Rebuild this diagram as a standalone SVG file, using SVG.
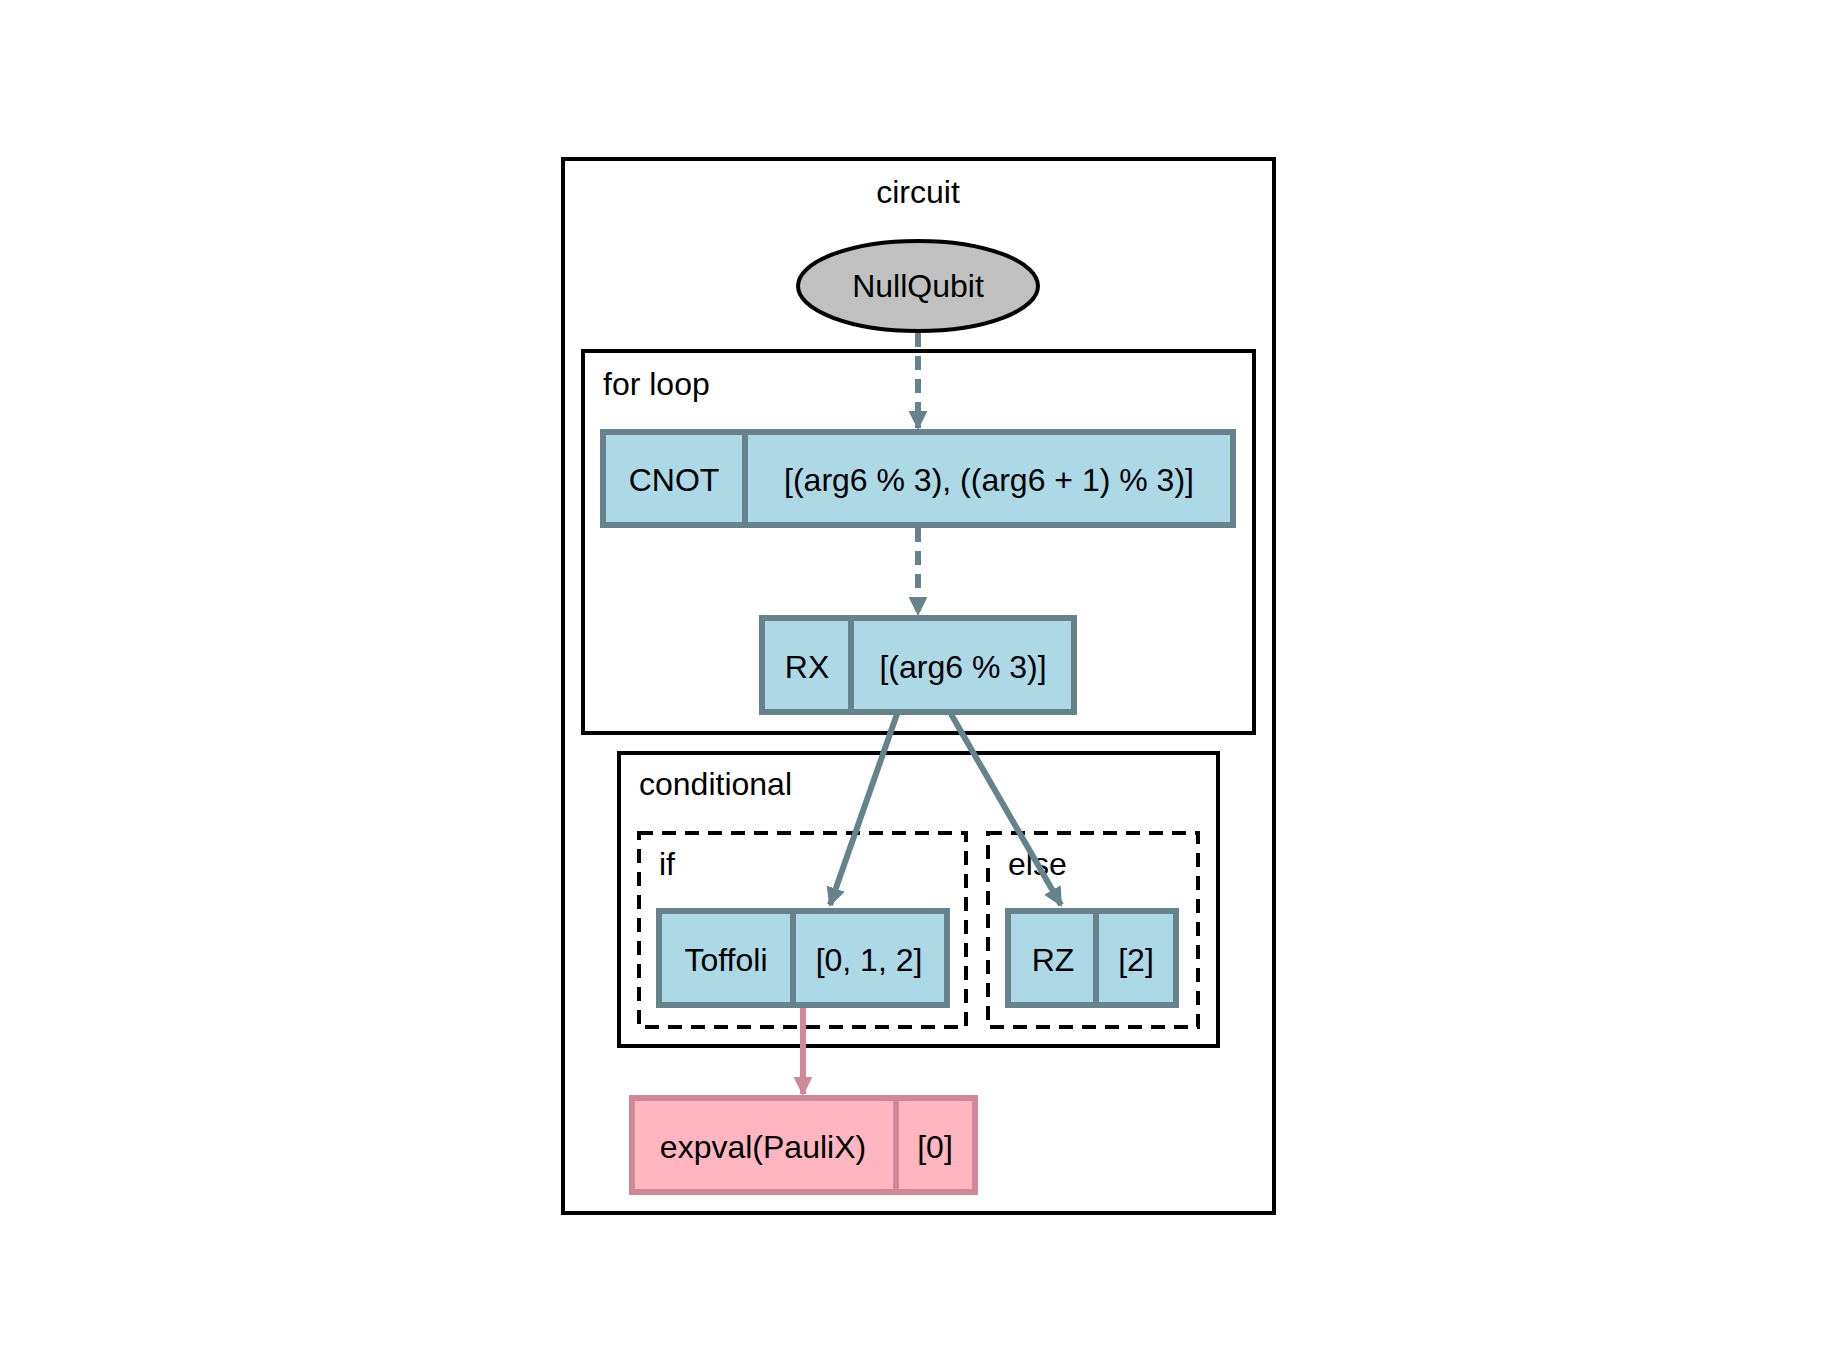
<svg xmlns="http://www.w3.org/2000/svg" width="1827" height="1368" viewBox="0 0 1827 1368">
<style>
text{font-family:"Liberation Sans",Arial,sans-serif;font-size:32px;fill:#000}
.c{text-anchor:middle}
.cl{fill:none;stroke:#000;stroke-width:4}
.dash{stroke-dasharray:14,9}
.b{fill:#add8e6;stroke:#66838c;stroke-width:6}
.p{fill:#ffb6c1;stroke:#d0899a;stroke-width:6}
.e{fill:none;stroke:#66838c;stroke-width:6}
.ep{fill:none;stroke:#d0899a;stroke-width:6}
</style>
<defs>
<marker id="a" viewBox="0 0 10 10" refX="9" refY="5" markerWidth="3.2" markerHeight="3.8" orient="auto" markerUnits="strokeWidth"><path d="M0,0L10,5L0,10z" fill="#66838c"/></marker>
<marker id="ap" viewBox="0 0 10 10" refX="9" refY="5" markerWidth="3.2" markerHeight="3.8" orient="auto" markerUnits="strokeWidth"><path d="M0,0L10,5L0,10z" fill="#d0899a"/></marker>
</defs>
<rect width="1827" height="1368" fill="#fff"/>
<g id="clusters">
<rect class="cl" x="563" y="159" width="711" height="1054"/>
<text class="c" x="918" y="203">circuit</text>
<rect class="cl" x="583" y="351" width="671" height="382"/>
<text x="603" y="395">for loop</text>
<rect class="cl" x="619" y="753" width="599" height="293"/>
<text x="639" y="795">conditional</text>
<rect class="cl dash" x="639" y="833" width="327" height="194"/>
<text x="659" y="875">if</text>
<rect class="cl dash" x="988" y="833" width="210" height="194"/>
<text x="1008" y="875">else</text>
</g>
<g id="edges">
<path class="e dash" d="M918,333V428" marker-end="url(#a)"/>
<path class="e dash" d="M918,528V614" marker-end="url(#a)"/>
<path class="e" d="M897,714L830,905" marker-end="url(#a)"/>
<path class="e" d="M951,714L1061,905" marker-end="url(#a)"/>
<path class="ep" d="M803,1008V1094" marker-end="url(#ap)"/>
</g>
<g id="NullQubit">
<ellipse cx="918" cy="286" rx="120" ry="45" fill="#c0c0c0" stroke="#000" stroke-width="4"/>
<text class="c" x="918" y="297">NullQubit</text>
</g>
<g id="CNOT">
<rect class="b" x="603" y="432" width="630" height="93"/>
<line class="b" x1="745" y1="432" x2="745" y2="525"/>
<text class="c" x="674" y="491">CNOT</text>
<text class="c" x="989" y="491">[(arg6 % 3), ((arg6 + 1) % 3)]</text>
</g>
<g id="RX">
<rect class="b" x="762" y="618" width="312" height="94"/>
<line class="b" x1="851" y1="618" x2="851" y2="712"/>
<text class="c" x="807" y="678">RX</text>
<text class="c" x="963" y="678">[(arg6 % 3)]</text>
</g>
<g id="Toffoli">
<rect class="b" x="659" y="911" width="288" height="94"/>
<line class="b" x1="793" y1="911" x2="793" y2="1005"/>
<text class="c" x="726" y="971">Toffoli</text>
<text class="c" x="869" y="971">[0, 1, 2]</text>
</g>
<g id="RZ">
<rect class="b" x="1008" y="911" width="168" height="94"/>
<line class="b" x1="1096" y1="911" x2="1096" y2="1005"/>
<text class="c" x="1053" y="971">RZ</text>
<text class="c" x="1136" y="971">[2]</text>
</g>
<g id="expval">
<rect class="p" x="632" y="1098" width="343" height="94"/>
<line class="p" x1="896" y1="1098" x2="896" y2="1192"/>
<text class="c" x="763" y="1158">expval(PauliX)</text>
<text class="c" x="935" y="1158">[0]</text>
</g>
</svg>
